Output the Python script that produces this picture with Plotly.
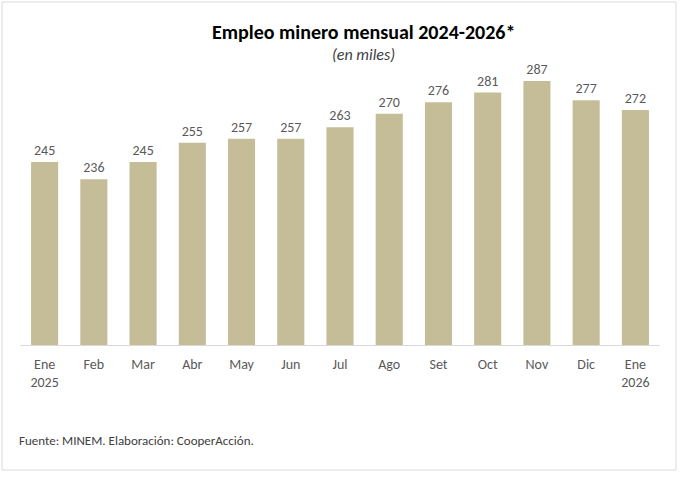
import plotly.graph_objects as go

months = ["Ene<br>2025", "Feb", "Mar", "Abr", "May", "Jun", "Jul", "Ago", "Set", "Oct", "Nov", "Dic", "Ene<br>2026"]
empleo = [245, 236, 245, 255, 257, 257, 263, 270, 276, 281, 287, 277, 272]

FONT = "Carlito, Lato, sans-serif"
W, HT = 683, 480
L, R, T, B = 20, 23, 56, 135

fig = go.Figure(go.Bar(
    x=list(range(len(months))), y=empleo,
    marker=dict(color="#C4BD97", line=dict(width=0)),
    text=[str(v) for v in empleo], textposition="outside",
    textfont=dict(family=FONT, size=14, color="#595959"),
    cliponaxis=False, width=0.55,
))

H = HT - T - B
def py(pix):
    return (HT - B - pix) / H
def px(pix):
    return (pix - L) / (W - L - R)

fig.update_layout(
    width=W, height=HT,
    margin=dict(l=L, r=R, t=T, b=B),
    paper_bgcolor="white", plot_bgcolor="white",
    showlegend=False,
    font=dict(family=FONT, color="#595959"),
    xaxis=dict(tickmode="array", tickvals=list(range(len(months))), ticktext=months,
               range=[-0.5, 12.5], showgrid=False, showline=True, linecolor="#D9D9D9",
               linewidth=1, ticks="", ticklabelstandoff=6,
               tickfont=dict(family=FONT, size=14, color="#595959")),
    yaxis=dict(range=[150, 300], visible=False, showgrid=False),
    annotations=[
        dict(text="<b>Empleo minero mensual 2024-2026*</b>", x=px(363), y=py(32), xref="paper", yref="paper",
             yanchor="middle", showarrow=False, font=dict(family=FONT, size=20, color="black")),
        dict(text="<i>(en miles)</i>", x=px(363), y=py(55), xref="paper", yref="paper",
             yanchor="middle", showarrow=False, font=dict(family=FONT, size=16, color="#404040")),
        dict(text="Fuente: MINEM. Elaboración: CooperAcción.", x=px(17), y=py(440), xref="paper", yref="paper",
             yanchor="middle", showarrow=False, xanchor="left", font=dict(family=FONT, size=13, color="#404040")),
    ],
)
fig.add_shape(type="rect", xref="paper", yref="paper",
              x0=px(2), x1=px(676), y0=py(470), y1=py(2),
              line=dict(color="#D9D9D9", width=1), fillcolor="rgba(0,0,0,0)", layer="below")
fig.write_html("out.html", config={"displayModeBar": False},
               post_script="document.body.style.margin='0';")
